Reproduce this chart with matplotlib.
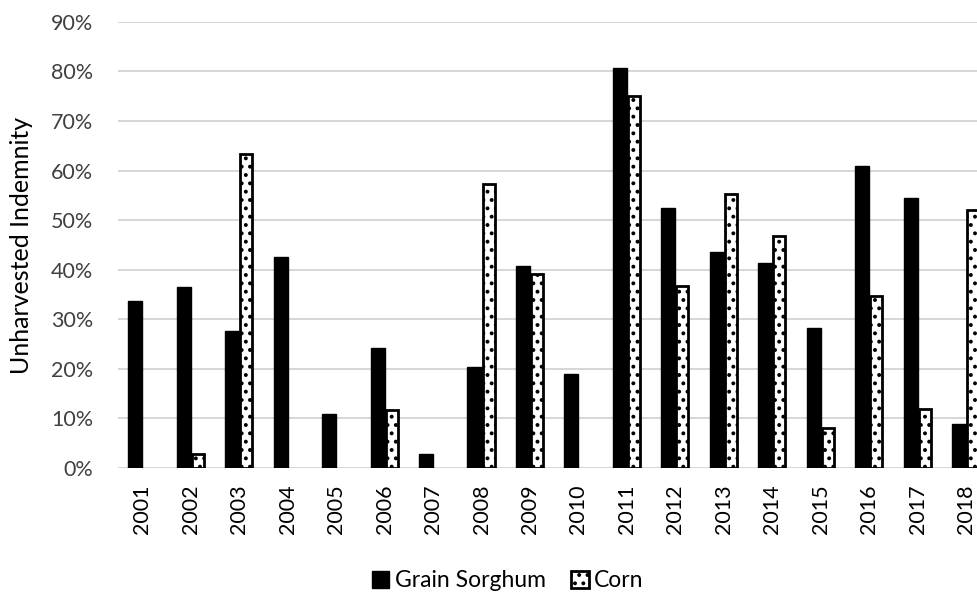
import matplotlib
matplotlib.use("Agg")
import matplotlib.pyplot as plt
import numpy as np

plt.rcParams['font.family'] = ['Lato', 'DejaVu Sans']
plt.rcParams['hatch.linewidth'] = 1.6

anos = [str(a) for a in range(2001, 2019)]
sorgo = [33.7, 36.6, 27.7, 42.5, 10.9, 24.3, 2.9, 20.3, 40.8, 18.9,
         80.7, 52.5, 43.6, 41.4, 28.2, 61.0, 54.5, 8.8]
milho = [0.0, 2.9, 63.3, 0.0, 0.0, 11.7, 0.0, 57.4, 39.1, 0.0,
         75.0, 36.8, 55.3, 46.8, 8.0, 34.8, 11.9, 52.1]

fig = plt.figure(figsize=(9.77, 5.94), dpi=100)
ax = fig.add_axes([0.1208, 0.2121, 0.893, 0.751])

x = np.arange(len(anos))
w = 0.29
ax.bar(x - w / 2, sorgo, w, color='black', edgecolor='black', linewidth=1,
       label='Grain Sorghum', zorder=3)
milho_plot = [v if v > 0 else np.nan for v in milho]
ax.bar(x + w / 2, milho_plot, w * 0.85, color='white', edgecolor='black',
       linewidth=2, hatch='..', label='Corn', zorder=3)

ax.set_xlim(-0.5, len(anos) - 0.5)
ax.set_ylim(0, 90)
ax.set_yticks(range(0, 91, 10))
ax.set_yticklabels([f"{v}%" for v in range(0, 91, 10)], fontsize=15.5, color='#404040')
ax.set_xticks(x)
ax.set_xticklabels(anos, rotation=90, fontsize=15.5, color='black')
ax.tick_params(axis='y', length=0, pad=18)
ax.tick_params(axis='x', length=0, pad=12)
ax.grid(axis='y', color='#d0d0d0', linewidth=1.2, zorder=0)
for s in ax.spines.values():
    s.set_visible(False)
ax.set_ylabel("Unharvested Indemnity", fontsize=18, color='black')
ax.yaxis.set_label_coords(-0.097, 0.5)

fig.legend(loc='lower center', bbox_to_anchor=(0.52, -0.03), ncol=2, frameon=False,
           fontsize=16.5, handlelength=0.75, handleheight=0.75, handletextpad=0.25,
           columnspacing=1.1)

fig.savefig("out.png", dpi=100)
